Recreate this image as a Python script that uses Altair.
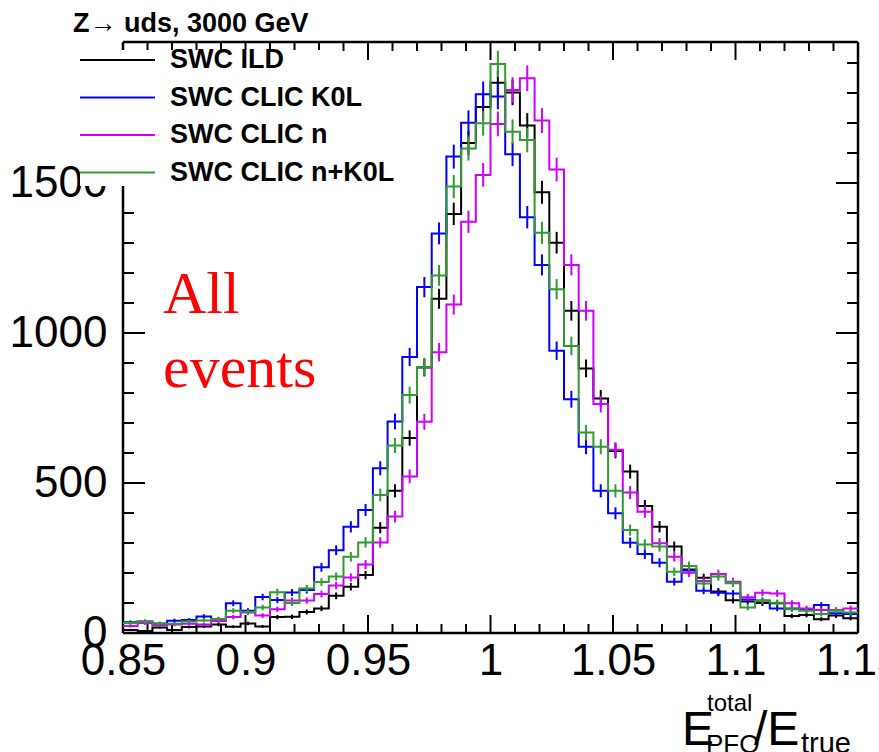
import altair as alt
import pandas as pd
import numpy as np

# ---------------- data ----------------
x_lo, x_hi = 0.85, 1.15
bin_width = 0.006
y_max = 1970

series = ["SWC ILD", "SWC CLIC K0L", "SWC CLIC n", "SWC CLIC n+K0L"]
colors = ["#000000", "#0000ff", "#cc00ff", "#339933"]

ild = [10, 7, 18, 10, 20, 22, 28, 21, 32, 22, 53, 54, 70, 82, 124, 154, 193, 351, 474, 650,
       885, 1114, 1397, 1633, 1753, 1834, 1802, 1692, 1469, 1301, 1074, 882, 782, 607, 538, 423, 354, 288, 212, 184,
       138, 109, 105, 100, 99, 57, 60, 46, 58, 49]
clic_k0l = [36, 38, 32, 41, 43, 55, 46, 99, 74, 120, 110, 135, 143, 219, 276, 354, 410, 549, 705, 920,
            1153, 1332, 1588, 1701, 1796, 1788, 1596, 1386, 1227, 941, 779, 621, 474, 399, 301, 263, 234, 171, 208, 141,
            134, 132, 112, 108, 82, 82, 77, 93, 66, 63]
clic_n = [23, 33, 27, 28, 31, 28, 40, 53, 68, 58, 79, 108, 108, 130, 158, 185, 228, 302, 388, 522,
          704, 936, 1095, 1371, 1527, 1697, 1810, 1849, 1708, 1545, 1227, 1074, 763, 611, 468, 404, 299, 254, 201, 173,
          197, 171, 119, 134, 132, 99, 82, 77, 77, 82]
clic_nk0l = [33, 39, 31, 31, 38, 42, 47, 74, 70, 85, 136, 100, 148, 170, 188, 254, 302, 460, 625, 793,
             887, 1192, 1488, 1615, 1699, 1897, 1671, 1643, 1334, 1146, 957, 668, 621, 474, 343, 295, 288, 204, 223, 165,
             188, 166, 85, 107, 101, 79, 74, 63, 74, 68]
all_values = [ild, clic_k0l, clic_n, clic_nk0l]

x_major = [0.85, 0.9, 0.95, 1.0, 1.05, 1.1, 1.15]
x_minor = [0.86, 0.87, 0.88, 0.89, 0.91, 0.92, 0.93, 0.94, 0.96, 0.97, 0.98, 0.99,
           1.01, 1.02, 1.03, 1.04, 1.06, 1.07, 1.08, 1.09, 1.11, 1.12, 1.13, 1.14]
y_major = [0, 500, 1000, 1500]
y_minor = [100, 200, 300, 400, 600, 700, 800, 900, 1100, 1200, 1300, 1400, 1600, 1700, 1800, 1900]

title_text = "Z\u2192 uds, 3000 GeV"

# ---------------- layout ----------------
W, H = 735, 591
FONT = "Liberation Sans"

xs = alt.Scale(domain=[x_lo, x_hi], nice=False, zero=False)
ys = alt.Scale(domain=[0, y_max], nice=False, zero=True)

x_axis = alt.Axis(values=x_major, format="~g", title=None, ticks=False, domain=False, grid=False,
                  labelFont=FONT, labelFontSize=44, labelColor="black", labelPadding=6,
                  labelOverlap=False, labelFlush=False, labelBound=False)
y_axis = alt.Axis(values=y_major, format="d", title=None, ticks=False, domain=False, grid=False,
                  labelFont=FONT, labelFontSize=44, labelColor="black", labelPadding=16,
                  labelOverlap=False, labelFlush=False, labelBound=False)

one = alt.Data(values=[{}])
layers = []

# frame
for (x1, x2, y1, y2) in [(0, W, 0, 0), (0, W, H, H), (0, 0, 0, H), (W, W, 0, H)]:
    layers.append(alt.Chart(one).mark_rule(color="black", strokeWidth=2.5).encode(
        x=alt.value(x1), x2=alt.value(x2), y=alt.value(y1), y2=alt.value(y2)))

# ticks (inside the frame, on all four sides)
xmaj = pd.DataFrame({"t": x_major})
xmin = pd.DataFrame({"t": x_minor})
ymaj = pd.DataFrame({"t": y_major})
ymin = pd.DataFrame({"t": y_minor})
for df, ln in [(xmaj, 18), (xmin, 9)]:
    layers.append(alt.Chart(df).mark_rule(color="black", strokeWidth=2).encode(
        x=alt.X("t:Q", scale=xs, axis=x_axis), y=alt.value(H), y2=alt.value(H - ln)))
    layers.append(alt.Chart(df).mark_rule(color="black", strokeWidth=2).encode(
        x=alt.X("t:Q", scale=xs, axis=x_axis), y=alt.value(0), y2=alt.value(ln)))
for df, ln in [(ymaj, 22), (ymin, 11)]:
    layers.append(alt.Chart(df).mark_rule(color="black", strokeWidth=2).encode(
        y=alt.Y("t:Q", scale=ys, axis=y_axis), x=alt.value(0), x2=alt.value(ln)))
    layers.append(alt.Chart(df).mark_rule(color="black", strokeWidth=2).encode(
        y=alt.Y("t:Q", scale=ys, axis=y_axis), x=alt.value(W), x2=alt.value(W - ln)))

# legend background box (covers the axis like the ROOT legend)
layers.append(alt.Chart(one).mark_rect(color="white").encode(
    x=alt.value(-43), x2=alt.value(200), y=alt.value(8), y2=alt.value(144)))

# histograms
for name, col, vals in zip(series, colors, all_values):
    n = len(vals)
    step = pd.DataFrame({
        "edge": [x_lo + i * bin_width for i in range(n + 1)],
        "count": [vals[min(i, n - 1)] for i in range(n + 1)],
    })
    err = pd.DataFrame({
        "center": [x_lo + (i + 0.5) * bin_width for i in range(n)],
        "lo": [v - np.sqrt(v) for v in vals],
        "hi": [v + np.sqrt(v) for v in vals],
    })
    layers.append(alt.Chart(step).mark_line(interpolate="step-after", color=col, strokeWidth=2, clip=True).encode(
        x=alt.X("edge:Q", scale=xs, axis=x_axis), y=alt.Y("count:Q", scale=ys, axis=y_axis)))
    layers.append(alt.Chart(err).mark_rule(color=col, strokeWidth=2, clip=True).encode(
        x=alt.X("center:Q", scale=xs, axis=x_axis), y=alt.Y("lo:Q", scale=ys, axis=y_axis), y2="hi:Q"))

# legend
layers.append(alt.Chart(alt.Data(values=[{"t": title_text}])).mark_text(
    align="left", baseline="alphabetic", font=FONT, fontWeight="bold", fontSize=27, color="black").encode(
    x=alt.value(-50), y=alt.value(-10), text="t:N"))
leg_line_y = [18, 55.5, 93, 130.5]
leg_text_y = [26, 63.5, 101, 138.5]
for name, col, ly, ty in zip(series, colors, leg_line_y, leg_text_y):
    layers.append(alt.Chart(one).mark_rule(color=col, strokeWidth=2).encode(
        x=alt.value(-43), x2=alt.value(32), y=alt.value(ly)))
    layers.append(alt.Chart(alt.Data(values=[{"t": name}])).mark_text(
        align="left", baseline="alphabetic", font=FONT, fontWeight="bold", fontSize=27, color="black").encode(
        x=alt.value(47), y=alt.value(ty), text="t:N"))

# annotation
for txt, by in [("All", 271), ("events", 345)]:
    layers.append(alt.Chart(alt.Data(values=[{"t": txt}])).mark_text(
        align="left", baseline="alphabetic", font="Liberation Serif", fontSize=60, color="#ff0000").encode(
        x=alt.value(40), y=alt.value(by), text="t:N"))

# x-axis title E_PFO^total / E_true
for txt, tx, ty, fs in [("E", 559, 703, 48), ("total", 584, 669, 24), ("PFO", 583, 711, 26),
                        ("/E", 631, 703, 48), ("true", 678, 711, 29)]:
    layers.append(alt.Chart(alt.Data(values=[{"t": txt}])).mark_text(
        align="left", baseline="alphabetic", font=FONT, fontSize=fs, color="black").encode(
        x=alt.value(tx), y=alt.value(ty), text="t:N"))

chart = alt.layer(*layers).properties(
    width=W, height=H,
    padding={"left": 123, "top": 42, "right": 21, "bottom": 119},
    autosize=alt.AutoSizeParams(type="none"),
    background="white",
).configure_view(stroke=None)

chart.save("out.html", embed_options={"renderer": "svg", "actions": False})
